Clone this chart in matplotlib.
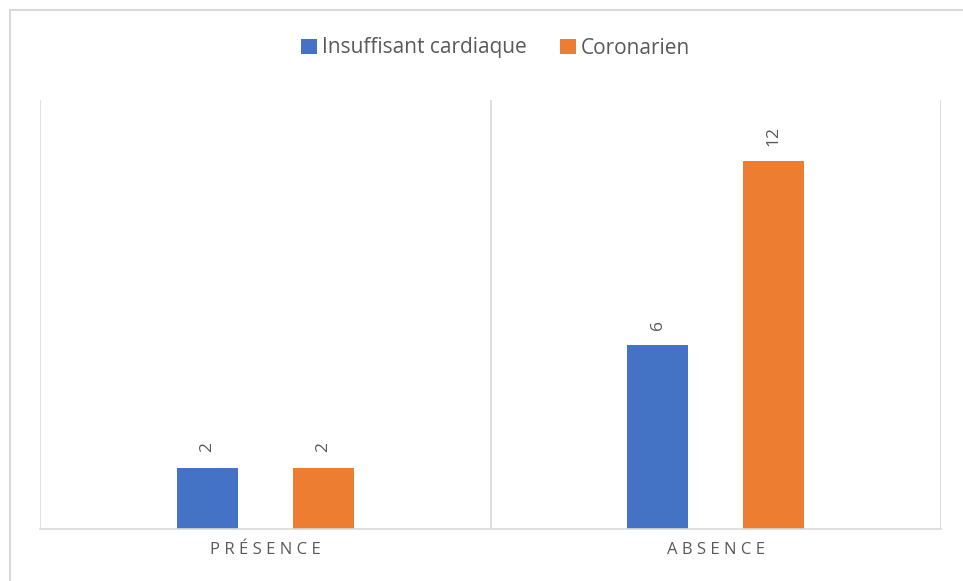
import numpy as np
import matplotlib.pyplot as plt
from matplotlib.patches import Rectangle

categories = ['PRÉSENCE', 'ABSENCE']
series_names = ['Insuffisant cardiaque', 'Coronarien']
insuffisant = [2, 6]
coronarien = [2, 12]
colors = ['#4472C4', '#ED7D31']

plt.rcParams['font.family'] = ['Open Sans', 'DejaVu Sans']
gray = '#595959'
light = '#D9D9D9'

fig = plt.figure(figsize=(9.63, 5.81), dpi=100)
W, H = 963, 581
ax = fig.add_axes([40 / W, 52 / H, 901 / W, 429 / H])

x = np.arange(len(categories))
width = 0.136
offset = 0.129
for vals, name, col, sign in zip([insuffisant, coronarien], series_names, colors, [-1, 1]):
    bars = ax.bar(x + sign * offset, vals, width, color=col, label=name)
    for b, v in zip(bars, vals):
        ax.annotate(str(v), (b.get_x() + b.get_width() / 2, v), xytext=(0, 11),
                    textcoords='offset points', rotation=90, ha='center', va='bottom',
                    color=gray, fontsize=12.5)

ax.set_xlim(-0.5, 1.5)
ax.set_ylim(0, 14)
for xv in [-0.5, 0.5, 1.5]:
    ax.axvline(xv, color=light, lw=1.2, zorder=0)
for s in ['top', 'left', 'right']:
    ax.spines[s].set_visible(False)
ax.spines['bottom'].set_color(light)
ax.spines['bottom'].set_linewidth(1.2)
ax.set_yticks([])
ax.set_xticks(x)
ax.set_xticklabels([' '.join(c) for c in categories], color=gray, fontsize=12)
ax.tick_params(axis='x', length=0, pad=9)

fig.legend(loc='center', bbox_to_anchor=(0.5 + 14 / W, 1 - 48 / H), ncol=2, frameon=False,
           fontsize=15, labelcolor=gray, handlelength=0.75, handleheight=0.75,
           handletextpad=0.25, columnspacing=1.6)

fig.patches.append(Rectangle((10 / W, -0.1), 1.1, 1 - 10 / H + 0.1, transform=fig.transFigure,
                             fill=False, edgecolor=light, lw=1.5))

fig.savefig('out.png', dpi=100)
